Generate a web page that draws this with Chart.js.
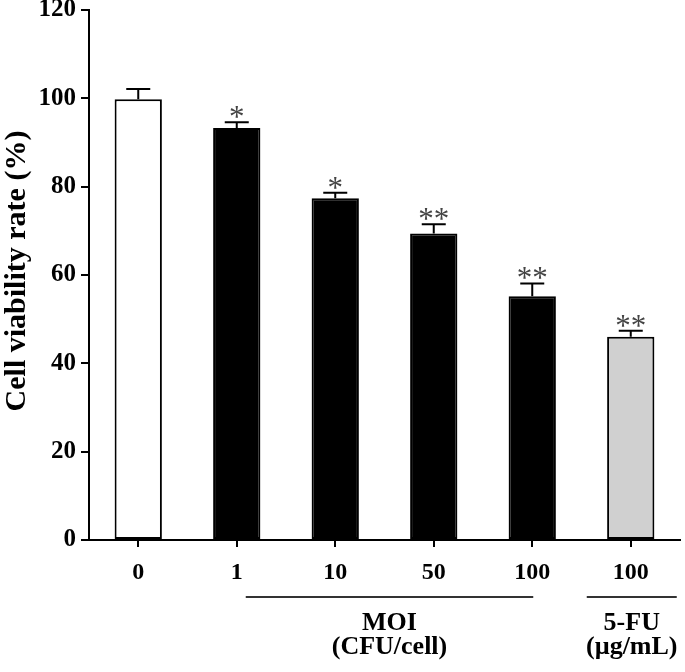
<!DOCTYPE html>
<html lang="en">
<head>
<meta charset="UTF-8">
<title>Cell viability</title>
<script src="https://cdn.jsdelivr.net/npm/chart.js"></script>
<style>
    html, body { margin: 0; padding: 0; background: #fff; }
</style>
</head>
<body>
<canvas id="viabilityChart" width="685" height="672"></canvas>
<script>
// values
const doseLabels = ['0', '1', '10', '50', '100', '100'];
const viability = [99.8, 93.3, 77.4, 69.4, 55.2, 46.0];
const viabilitySD = [2.3, 1.3, 1.2, 2.1, 2.9, 1.4];
const significance = ['', '*', '*', '**', '**', '**'];
const barColors = ['#ffffff', '#000000', '#000000', '#000000', '#000000', '#d0d0d0'];
const yTicks = [0, 20, 40, 60, 80, 100, 120];

// bracket groups under the x axis
const groupNames = ['MOI', '5-FU'];
const groupUnits = ['(CFU/cell)', '(\u00b5g/mL)'];
const groupFrom = [1, 5];
const groupTo = [4, 5];

const serif = 'Liberation Serif, Times New Roman, serif';

// error bars (upper whisker only) + significance stars
const errorBars = {
    id: 'errorBars',
    afterDatasetsDraw(chart) {
        const { ctx, scales: { x, y } } = chart;
        ctx.save();
        ctx.strokeStyle = '#000';
        ctx.lineWidth = 2;
        viability.forEach((v, i) => {
            const cx = x.getPixelForValue(i);
            const top = y.getPixelForValue(v);
            const cap = y.getPixelForValue(v + viabilitySD[i]);
            ctx.beginPath();
            ctx.moveTo(cx, top);
            ctx.lineTo(cx, cap);
            ctx.moveTo(cx - 12, cap);
            ctx.lineTo(cx + 12, cap);
            ctx.stroke();

            if (significance[i]) {
                ctx.fillStyle = '#444';
                ctx.font = '31px ' + serif;
                ctx.textAlign = 'center';
                ctx.textBaseline = 'alphabetic';
                ctx.fillText(significance[i], cx, cap + 5);
            }
        });
        ctx.restore();
    }
};

// y title + group brackets/labels below the tick labels
const extraText = {
    id: 'extraText',
    afterDraw(chart) {
        const { ctx, scales: { x } } = chart;
        ctx.save();
        ctx.fillStyle = '#000';
        ctx.textAlign = 'center';

        ctx.save();
        ctx.translate(17, 271);
        ctx.rotate(-Math.PI / 2);
        ctx.textBaseline = 'middle';
        ctx.font = 'bold 30px ' + serif;
        ctx.fillText('Cell viability rate (%)', 0, 0);
        ctx.restore();

        ctx.strokeStyle = '#333';
        ctx.lineWidth = 2;
        ctx.textBaseline = 'alphabetic';
        ctx.font = 'bold 26px ' + serif;
        groupNames.forEach((name, g) => {
            const a = x.getPixelForValue(groupFrom[g]);
            const b = x.getPixelForValue(groupTo[g]);
            const x0 = groupFrom[g] === groupTo[g] ? a - 44 : a + 9;
            const x1 = groupFrom[g] === groupTo[g] ? b + 46 : b + 1;
            ctx.beginPath();
            ctx.moveTo(x0, 597);
            ctx.lineTo(x1, 597);
            ctx.stroke();
            const mid = (x0 + x1) / 2;
            ctx.fillText(name, mid, 630);
            ctx.fillText(groupUnits[g], mid, 654);
        });
        ctx.restore();
    }
};

new Chart(document.getElementById('viabilityChart'), {
    type: 'bar',
    data: {
        labels: doseLabels,
        datasets: [{
            data: viability,
            backgroundColor: barColors,
            borderColor: '#000',
            borderWidth: 2,
            borderSkipped: false,
            barPercentage: 0.48,
            categoryPercentage: 1.0
        }]
    },
    options: {
        responsive: false,
        animation: false,
        layout: { padding: { top: 10, right: 5, left: 0, bottom: 0 } },
        plugins: { legend: { display: false }, tooltip: { enabled: false } },
        scales: {
            x: {
                grid: { display: true, drawOnChartArea: false, offset: false, tickLength: 7, color: '#000', lineWidth: 2 },
                border: { display: true, color: '#000', width: 2 },
                ticks: { color: '#000', padding: 11, font: { family: serif, size: 24, weight: 'bold' } },
                afterFit: s => { s.height = 132; }
            },
            y: {
                min: 0,
                max: 120,
                afterBuildTicks: s => { s.ticks = yTicks.map(v => ({ value: v })); },
                grid: { display: true, drawOnChartArea: false, tickLength: 8, color: '#000', lineWidth: 2 },
                border: { display: true, color: '#000', width: 2 },
                ticks: { color: '#000', padding: 5, font: { family: serif, size: 25, weight: 'bold', lineHeight: 0.4 } },
                afterFit: s => { s.width = 89; }
            }
        }
    },
    plugins: [errorBars, extraText]
});
</script>
</body>
</html>
